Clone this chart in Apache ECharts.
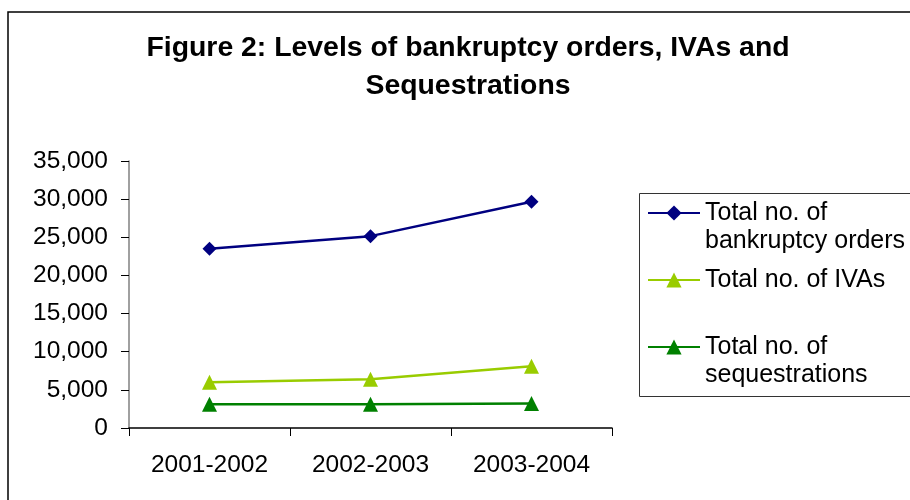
<!DOCTYPE html>
<html>
<head>
<meta charset="utf-8">
<script src="https://cdn.jsdelivr.net/npm/echarts@6/dist/echarts.min.js"></script>
<style>html,body{margin:0;padding:0;background:#fff}#c{width:910px;height:500px}</style>
</head>
<body>
<div id="c"></div>
<script>
const categories = ['2001-2002', '2002-2003', '2003-2004'];
const bankruptcyOrders = [23500, 25150, 29650];
const ivas = [6000, 6400, 8100];
const sequestrations = [3100, 3100, 3200];
const seriesNames = ['Total no. of\nbankruptcy orders', 'Total no. of IVAs', 'Total no. of\nsequestrations'];
const titleText = 'Figure 2: Levels of bankruptcy orders, IVAs and\nSequestrations';

const FONT = '"Liberation Sans", Arial, sans-serif';
const chart = echarts.init(document.getElementById('c'), null, {renderer: 'canvas'});

function legendFor(idx, top, twoLine) {
  return {
    show: true,
    data: [seriesNames[idx]],
    left: 647,
    top: top,
    padding: 0,
    itemWidth: 52,
    itemHeight: 19,
    selectedMode: false,
    formatter: twoLine ? (name => '\n' + name) : (name => name),
    textStyle: {fontFamily: FONT, fontSize: 25, color: '#000', lineHeight: 28}
  };
}

chart.setOption({
  animation: false,
  backgroundColor: '#fff',
  title: {
    text: titleText,
    left: 468,
    top: 29,
    padding: 0,
    textAlign: 'center',
    textStyle: {fontFamily: FONT, fontSize: 28.4, fontWeight: 'bold', color: '#000', lineHeight: 38}
  },
  graphic: [
    {type: 'rect', shape: {x: 8, y: 12, width: 1000, height: 600}, style: {fill: 'none', stroke: '#000', lineWidth: 1.5}, silent: true, z: -10},
    {type: 'rect', shape: {x: 639.5, y: 193.5, width: 300, height: 203}, style: {fill: 'none', stroke: '#333', lineWidth: 1}, silent: true, z: -5}
  ],
  legend: [
    legendFor(0, 171, true),
    legendFor(1, 266, false),
    legendFor(2, 305, true)
  ],
  grid: {left: 129, right: 298, top: 161, bottom: 72, containLabel: false},
  xAxis: {
    type: 'category',
    data: categories,
    boundaryGap: true,
    axisLine: {lineStyle: {color: '#000', width: 1.5}},
    axisTick: {show: true, length: 8, inside: false, lineStyle: {color: '#000'}},
    axisLabel: {fontFamily: FONT, fontSize: 24.5, color: '#000', margin: 25},
    splitLine: {show: false}
  },
  yAxis: {
    type: 'value',
    min: 0,
    max: 35000,
    interval: 5000,
    axisLine: {show: true, lineStyle: {color: '#808080', width: 1.5}},
    axisTick: {show: true, length: 8, inside: false, lineStyle: {color: '#000'}},
    axisLabel: {
      fontFamily: FONT, fontSize: 24.5, color: '#000', margin: 21,
      formatter: v => v.toLocaleString('en-US')
    },
    splitLine: {show: false}
  },
  series: [
    {
      name: seriesNames[0], type: 'line', data: bankruptcyOrders,
      symbol: 'diamond', symbolSize: 14,
      lineStyle: {color: '#000080', width: 2.5},
      itemStyle: {color: '#000080'}
    },
    {
      name: seriesNames[1], type: 'line', data: ivas,
      symbol: 'triangle', symbolSize: 15,
      lineStyle: {color: '#99CC00', width: 2.5},
      itemStyle: {color: '#99CC00'}
    },
    {
      name: seriesNames[2], type: 'line', data: sequestrations,
      symbol: 'triangle', symbolSize: 15,
      lineStyle: {color: '#008000', width: 2.5},
      itemStyle: {color: '#008000'}
    }
  ]
});
</script>
</body>
</html>
